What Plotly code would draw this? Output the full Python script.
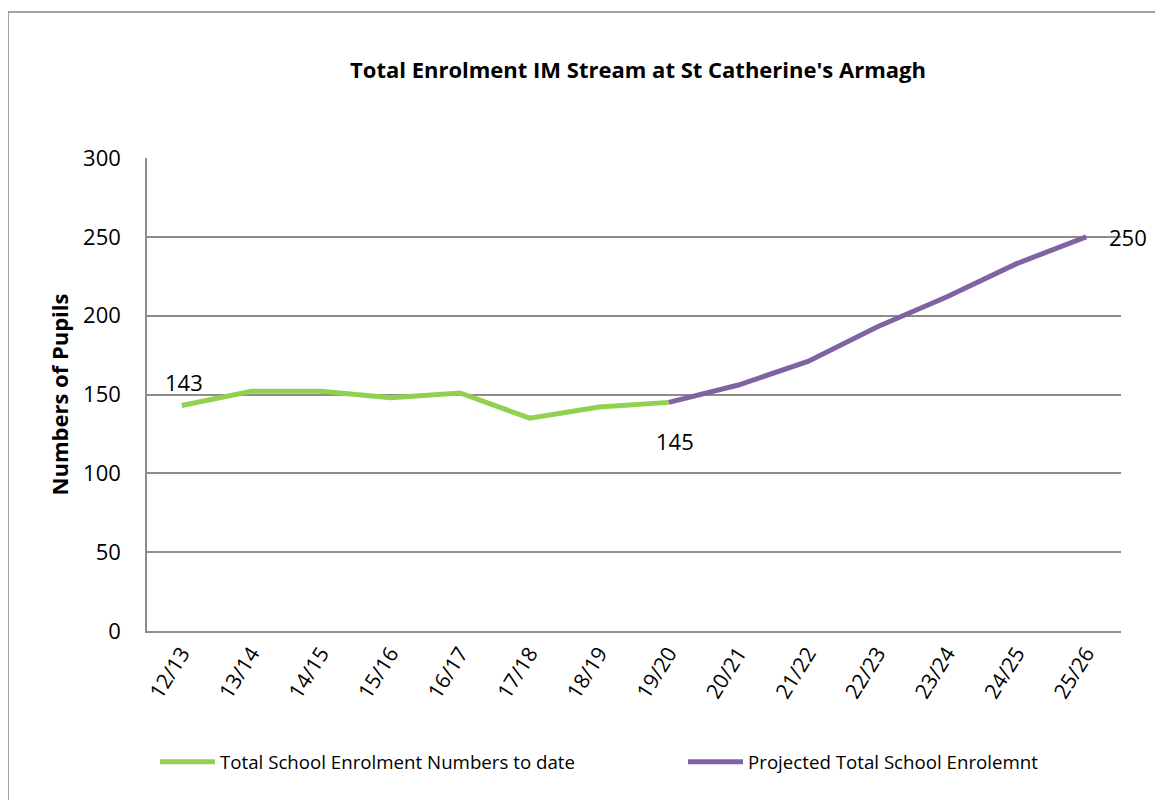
import plotly.graph_objects as go

categories = ["12/13", "13/14", "14/15", "15/16", "16/17", "17/18", "18/19",
              "19/20", "20/21", "21/22", "22/23", "23/24", "24/25", "25/26"]
actual_cats = categories[:8]
actual_vals = [143, 152, 152, 148, 151, 135, 142, 145]
proj_cats = categories[7:]
proj_vals = [145, 156, 171, 193, 212, 233, 250]
y_ticks = [0, 50, 100, 150, 200, 250, 300]

FONT = "Open Sans, sans-serif"
GREEN = "#92D050"
PURPLE = "#8064A2"
GRID = "#8C8C8C"

# page body margin offset (8px) -> work in figure coordinates
OFF = 8
W, H = 1163 - OFF, 800 - OFF
L = 147 - OFF
T = 158 - OFF
R = 1163 - 1121
B = 800 - 631
pw = W - L - R
ph = H - T - B


def px(xp):
    return (xp - OFF - L) / pw


def py(yp):
    return ((H - B) - (yp - OFF)) / ph


fig = go.Figure()
fig.add_trace(go.Scatter(x=actual_cats, y=actual_vals, mode="lines",
                         name="Total School Enrolment Numbers to date",
                         line=dict(color=GREEN, width=5), legend="legend"))
fig.add_trace(go.Scatter(x=proj_cats, y=proj_vals, mode="lines",
                         name="Projected Total School Enrolemnt",
                         line=dict(color=PURPLE, width=5), legend="legend2"))

ann_font = dict(family=FONT, size=22, color="black")
fig.add_annotation(x=actual_cats[0], y=actual_vals[0], text=str(actual_vals[0]),
                   showarrow=False, yshift=24, xshift=2, font=ann_font)
fig.add_annotation(x=actual_cats[-1], y=actual_vals[-1], text=str(actual_vals[-1]),
                   showarrow=False, yshift=-39, xshift=6, font=ann_font)
fig.add_annotation(x=proj_cats[-1], y=proj_vals[-1], text=str(proj_vals[-1]),
                   showarrow=False, xshift=42, yshift=0, font=ann_font)

# outer chart-area border
fig.add_shape(type="rect", xref="paper", yref="paper",
              x0=px(8), x1=px(1180), y0=py(815), y1=py(12),
              line=dict(color="#878787", width=1.5), layer="below")

leg_common = dict(orientation="h", yanchor="middle", xanchor="left",
                  itemwidth=55, font=dict(family=FONT, size=18.7, color="black"),
                  bgcolor="rgba(0,0,0,0)", borderwidth=0)

fig.update_layout(
    width=W, height=H,
    margin=dict(l=L, r=R, t=T, b=B),
    paper_bgcolor="white", plot_bgcolor="white",
    font=dict(family=FONT, color="black"),
    title=dict(text="<b>Total Enrolment IM Stream at St Catherine's Armagh</b>",
               x=(638 - OFF) / W, xanchor="center", y=1 - (70 - OFF) / H, yanchor="middle",
               font=dict(family=FONT, size=22, color="black")),
    showlegend=True,
    legend=dict(x=px(155), y=py(762), **leg_common),
    legend2=dict(x=px(683), y=py(762), **leg_common),
    xaxis=dict(type="category", categoryorder="array", categoryarray=categories,
               range=[-0.5, len(categories) - 0.5],
               showline=True, linecolor=GRID, linewidth=1.5,
               showgrid=False, ticks="", tickangle=-58,
               tickfont=dict(family=FONT, size=21, color="black")),
    yaxis=dict(range=[0, 300], tickvals=y_ticks, showgrid=True,
               gridcolor=GRID, gridwidth=1.5, zeroline=False,
               showline=True, linecolor=GRID, linewidth=1.5,
               ticks="", ticklabelstandoff=20,
               tickfont=dict(family=FONT, size=22, color="black"),
               title=dict(text="<b>Numbers of Pupils</b>", standoff=8,
                          font=dict(family=FONT, size=22, color="black"))),
)

fig.write_html("out.html")
